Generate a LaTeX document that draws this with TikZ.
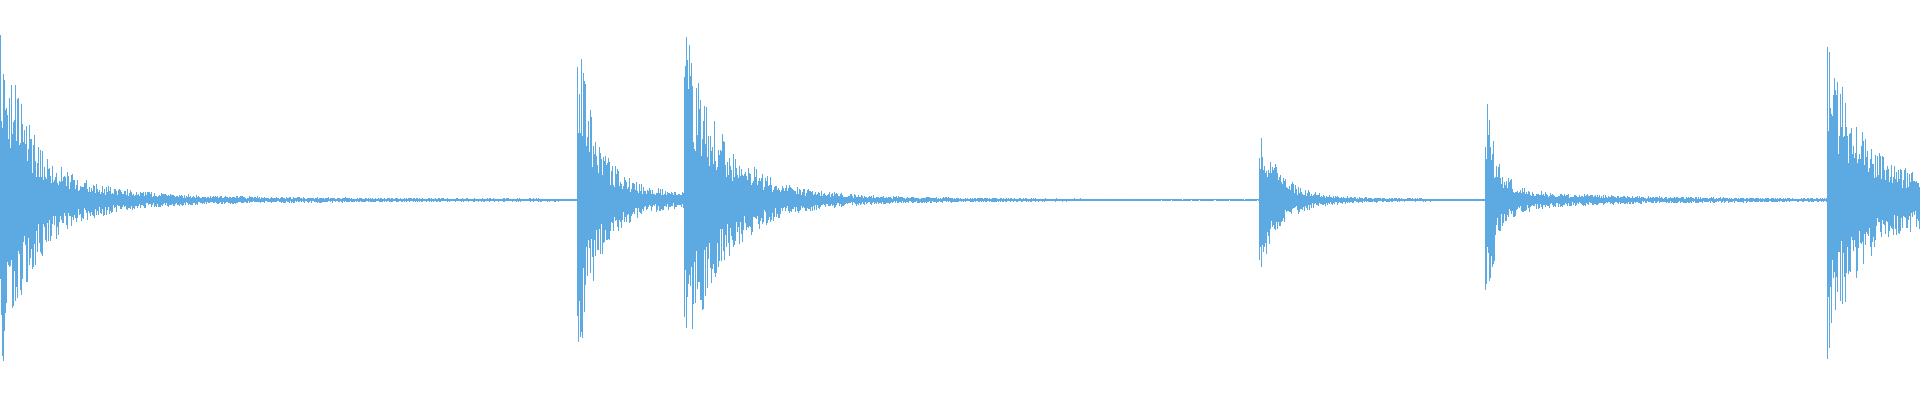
\documentclass[tikz,border=0pt]{standalone}
\definecolor{wavecol}{RGB}{93,170,226}
\begin{document}
\begin{tikzpicture}[x=1pt,y=1pt,wave/.style={draw=wavecol,line width=0.7pt}]
\useasboundingbox (0,0) rectangle (1920,400);
\pgfmathsetseed{7}
\newcommand\envt[3]{#2*exp(min(0,max(-20,-(\x-#1)/#3)))*(\x>=#1)}
\foreach \x in {0,1,...,1919}{
  \pgfmathsetmacro\e{\envt{0}{150}{30}+\envt{0}{25}{80}+\envt{0}{4}{300}
   +\envt{577}{150}{18}+\envt{577}{25}{60}+\envt{577}{3}{200}
   +\envt{684}{150}{35}+\envt{684}{18}{80}+\envt{684}{2}{120}
   +\envt{1259}{68}{18}+\envt{1259}{10}{60}
   +\envt{1485}{105}{12}+\envt{1485}{9}{80}+\envt{1485}{3}{300}
   +\envt{1827}{145}{25}+\envt{1827}{35}{250}+1}
  \pgfmathsetmacro\a{\e*(0.35+0.65*rnd)}
  \pgfmathsetmacro\b{\e*(0.35+0.65*rnd)}
  \draw[wave] (\x,{200+\a}) -- (\x,{200-\b});
}
\end{tikzpicture}
\end{document}
